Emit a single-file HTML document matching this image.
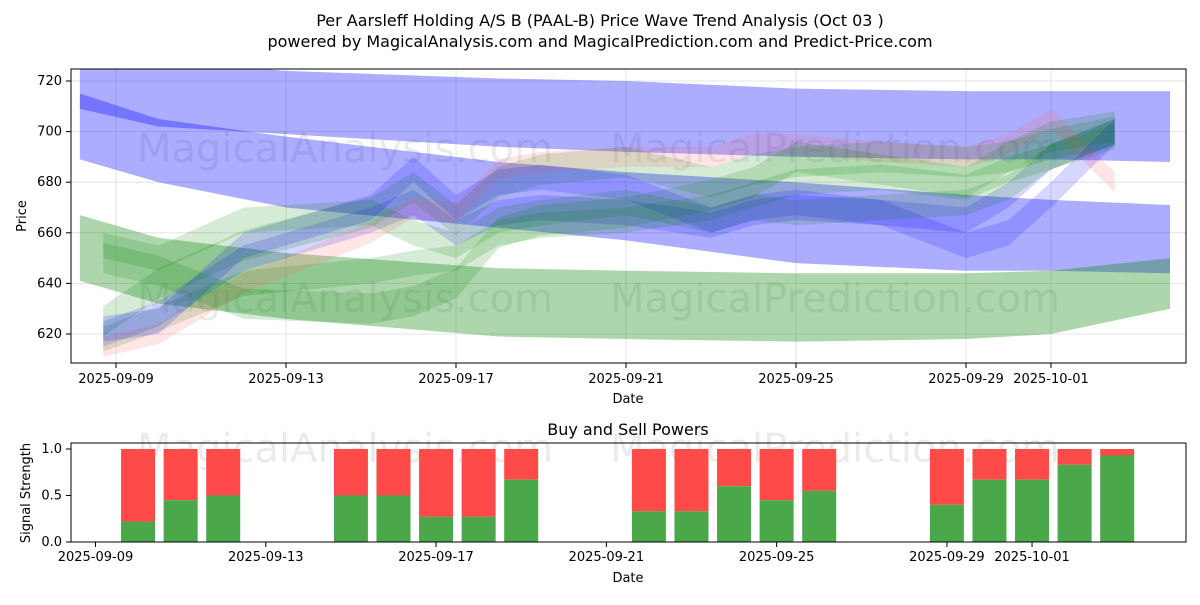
<!DOCTYPE html>
<html><head><meta charset="utf-8"><style>
body{margin:0;background:#fff;font-family:"Liberation Sans","DejaVu Sans",sans-serif}
svg text{font-family:"DejaVu Sans","Liberation Sans",sans-serif}
</style></head><body>
<svg id="c" width="1200" height="600" xmlns="http://www.w3.org/2000/svg">
<rect width="1200" height="600" fill="#fff"/>
<text x="600" y="26" text-anchor="middle" font-size="16">Per Aarsleff Holding A/S B (PAAL-B) Price Wave Trend Analysis (Oct 03 )</text>
<text x="600" y="47" text-anchor="middle" font-size="16">powered by MagicalAnalysis.com and MagicalPrediction.com and Predict-Price.com</text>
<defs><clipPath id="tc"><rect x="71" y="69" width="1115" height="294"/></clipPath></defs>
<g id="topplot" clip-path="url(#tc)"></g>
<g id="topaxes"></g>
<g id="bot"></g>
</svg>
<script>
const NS="http://www.w3.org/2000/svg";
const svgEl=document.getElementById('c');
function mk(tag,attrs,parent){const e=document.createElementNS(NS,tag);for(const k in attrs)e.setAttribute(k,attrs[k]);(parent||svgEl).appendChild(e);return e;}

// ---- data ----
const priceTicks=[620,640,660,680,700,720];
const dateTicks=["2025-09-09","2025-09-13","2025-09-17","2025-09-21","2025-09-25","2025-09-29","2025-10-01"];
const dateTickDays=[0,4,8,12,16,20,22];
const bandDays=[-0.3,1,3,6,7,8,9,10,12,14,15,16,18,20,21,22,23.5];
const bandA=[620,628,650,665,672,660,668,670,668,663,668,670,668,665,675,690,700];
const bandB=[625,640,655,668,678,665,680,685,688,680,685,688,690,688,690,695,700];
const bandC=[618,626,640,645,648,650,660,663,665,670,675,680,682,678,685,690,698];
const bandD=[615,620,640,660,670,668,685,688,690,690,695,695,692,690,695,705,680];
const bandE=[622,625,655,670,685,670,680,682,678,665,670,672,668,655,660,675,700];
const bandF=[650,645,632,630,633,640,660,665,668,675,680,690,685,680,690,698,702];
const bandG=[655,650,665,668,660,655,665,668,672,665,670,668,670,672,678,690,700];
const bigDays=[-0.85,1,4,9,12,16,20,22,24.8];
const blueTopUpper=[732,728,724,721,720,717,716,716,716];
const blueTopLower=[709,702,699,694,692,690,689,689,688];
const blueMidUpper=[715,705,698,688,684,680,675,673,671];
const blueMidLower=[689,680,670,662,657,648,645,645,644];
const greenLowUpper=[667,658,652,646,645,644,644,645,650];
const greenLowLower=[641,632,626,619,618,617,618,620,630];
const buyDays=[1,2,3,6,7,8,9,10,13,14,15,16,17,20,21,22,23,24];
const buyVals=[0.22,0.45,0.5,0.5,0.5,0.27,0.27,0.67,0.33,0.33,0.6,0.45,0.55,0.4,0.67,0.67,0.83,0.93];
const sigTicks=[0,0.5,1.0];

// ---- scales ----
const xT=d=>116+d*42.5;
const yT=v=>334-(v-620)*2.53;
const xB=d=>95.5+d*42.57;
const yB=v=>542-v*93;

const topG=document.getElementById('topplot'),ta=document.getElementById('topaxes'),bot=document.getElementById('bot');
priceTicks.forEach(v=>mk('line',{x1:71,x2:1186,y1:yT(v),y2:yT(v),stroke:'#ddd','stroke-width':0.8},topG));
dateTickDays.forEach(d=>mk('line',{x1:xT(d),x2:xT(d),y1:69,y2:363,stroke:'#ddd','stroke-width':0.8},topG));
[[345,150],[835,150],[345,300],[835,300]].forEach((p,i)=>{const t=mk('text',{x:p[0],y:p[1]+12,'text-anchor':'middle','font-size':40,fill:'#000','fill-opacity':0.08},topG);t.textContent=i%2?'MagicalPrediction.com':'MagicalAnalysis.com';});

function area(days,up,lo,color,op,name){
  let d='M'+days.map((t,i)=>xT(t)+','+yT(up[i])).join('L');
  for(let i=days.length-1;i>=0;i--)d+='L'+xT(days[i])+','+yT(lo[i]);
  const p=mk('path',{d:d+'Z',fill:color,'fill-opacity':op},topG);
  
  
}
area(bigDays,blueTopUpper,blueTopLower,'#0000ff',0.32,'blue-band-top');
area(bigDays,blueMidUpper,blueMidLower,'#0000ff',0.32,'blue-band-mid');
area(bigDays,greenLowUpper,greenLowLower,'#008000',0.32,'green-band-low');
const thin=[[bandA,'#0000ff',5,'band-a'],[bandB,'#008000',6,'band-b'],[bandC,'#008000',5,'band-c'],[bandD,'#ff6060',4,'band-d'],[bandE,'#0000ff',5,'band-e'],[bandF,'#008000',6,'band-f'],[bandG,'#008000',5,'band-g']];
thin.forEach(b=>area(bandDays,b[0].map(v=>v+b[2]),b[0].map(v=>v-b[2]),b[1],0.16,b[3]));

mk('rect',{x:71,y:69,width:1115,height:294,fill:'none',stroke:'#000','stroke-width':1},ta);
priceTicks.forEach(v=>{mk('line',{x1:66,x2:71,y1:yT(v),y2:yT(v),stroke:'#000'},ta);const t=mk('text',{x:62,y:yT(v)+4,'text-anchor':'end','font-size':13},ta);t.textContent=v;});
dateTicks.forEach((s,i)=>{const x=xT(dateTickDays[i]);mk('line',{x1:x,x2:x,y1:363,y2:368,stroke:'#000'},ta);const t=mk('text',{x:x,y:383,'text-anchor':'middle','font-size':13},ta);t.textContent=s;});
let t=mk('text',{x:628,y:403,'text-anchor':'middle','font-size':13},ta);t.textContent='Date';
t=mk('text',{x:26,y:216,'text-anchor':'middle','font-size':13,transform:'rotate(-90 26 216)'},ta);t.textContent='Price';

t=mk('text',{x:628,y:435,'text-anchor':'middle','font-size':16},bot);t.textContent='Buy and Sell Powers';
[[345,450],[835,450]].forEach((p,i)=>{const w=mk('text',{x:p[0],y:p[1]+12,'text-anchor':'middle','font-size':40,fill:'#000','fill-opacity':0.08},bot);w.textContent=i?'MagicalPrediction.com':'MagicalAnalysis.com';});
buyDays.forEach((d,i)=>{
  const x=xB(d)-17,v=buyVals[i];
  const r=mk('rect',{x:x,y:yB(1),width:34,height:yB(v)-yB(1),fill:'#ff4a4a'},bot);
  
  
  const g=mk('rect',{x:x,y:yB(v),width:34,height:yB(0)-yB(v),fill:'#4aa84a'},bot);
  
  
});
mk('rect',{x:71,y:443,width:1115,height:99,fill:'none',stroke:'#000'},bot);
sigTicks.forEach(v=>{mk('line',{x1:66,x2:71,y1:yB(v),y2:yB(v),stroke:'#000'},bot);const s=mk('text',{x:62,y:yB(v)+4,'text-anchor':'end','font-size':13},bot);s.textContent=v.toFixed(1);});
dateTicks.forEach((s,i)=>{const x=xB(dateTickDays[i]);mk('line',{x1:x,x2:x,y1:542,y2:547,stroke:'#000'},bot);const q=mk('text',{x:x,y:561,'text-anchor':'middle','font-size':13},bot);q.textContent=s;});
t=mk('text',{x:628,y:582,'text-anchor':'middle','font-size':13},bot);t.textContent='Date';
t=mk('text',{x:30,y:493,'text-anchor':'middle','font-size':13,transform:'rotate(-90 30 493)'},bot);t.textContent='Signal Strength';
</script>
</body></html>
